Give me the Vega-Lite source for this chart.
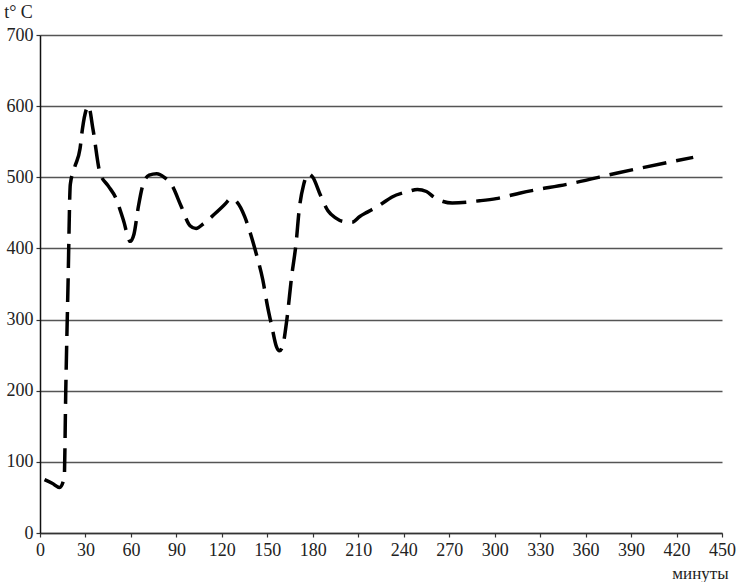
{
  "$schema": "https://vega.github.io/schema/vega-lite/v6.json",
  "width": 682,
  "height": 498,
  "autosize": "none",
  "padding": {"left": 40, "top": 35, "right": 17, "bottom": 49},
  "background": "white",
  "config": {"view": {"stroke": null}, "font": "Liberation Serif"},
  "data": {"values": [
    {"t": 3, "v": 75}, {"t": 8, "v": 70}, {"t": 13, "v": 64}, {"t": 16, "v": 78},
    {"t": 17, "v": 200}, {"t": 18.5, "v": 350}, {"t": 20, "v": 490}, {"t": 23, "v": 515},
    {"t": 26.4, "v": 540}, {"t": 28, "v": 568}, {"t": 32, "v": 600}, {"t": 35, "v": 567},
    {"t": 39.6, "v": 506}, {"t": 45, "v": 488}, {"t": 50, "v": 471}, {"t": 55, "v": 440},
    {"t": 59.5, "v": 410}, {"t": 62, "v": 420}, {"t": 65, "v": 460}, {"t": 68, "v": 490},
    {"t": 72, "v": 503}, {"t": 77, "v": 505}, {"t": 82, "v": 500}, {"t": 87, "v": 489},
    {"t": 93, "v": 460}, {"t": 99, "v": 432}, {"t": 103, "v": 428}, {"t": 108, "v": 435},
    {"t": 115, "v": 448}, {"t": 122, "v": 462}, {"t": 126, "v": 470}, {"t": 130, "v": 465},
    {"t": 135, "v": 445}, {"t": 139, "v": 420}, {"t": 143, "v": 390}, {"t": 147, "v": 356},
    {"t": 150, "v": 320}, {"t": 153, "v": 290}, {"t": 156, "v": 262}, {"t": 158, "v": 256},
    {"t": 160, "v": 262}, {"t": 163, "v": 302}, {"t": 166, "v": 360}, {"t": 169, "v": 408},
    {"t": 171, "v": 454}, {"t": 174, "v": 490}, {"t": 177, "v": 505}, {"t": 180, "v": 500},
    {"t": 185, "v": 475}, {"t": 190, "v": 453}, {"t": 195, "v": 443}, {"t": 200, "v": 438},
    {"t": 206, "v": 437}, {"t": 211, "v": 445}, {"t": 216, "v": 451}, {"t": 225, "v": 462},
    {"t": 232, "v": 472}, {"t": 243, "v": 480}, {"t": 249, "v": 483}, {"t": 255, "v": 480},
    {"t": 260, "v": 472}, {"t": 266, "v": 466}, {"t": 272, "v": 464}, {"t": 290, "v": 467},
    {"t": 301, "v": 470}, {"t": 317, "v": 478}, {"t": 352, "v": 492}, {"t": 381, "v": 506},
    {"t": 431, "v": 528}
  ]},
  "mark": {"type": "line", "interpolate": "monotone", "color": "black", "strokeWidth": 3.5, "strokeDash": [24, 10], "strokeCap": "butt"},
  "encoding": {
    "x": {
      "field": "t", "type": "quantitative",
      "scale": {"domain": [0, 450], "nice": false, "zero": true},
      "axis": {
        "values": [0, 30, 60, 90, 120, 150, 180, 210, 240, 270, 300, 330, 360, 390, 420, 450],
        "grid": false, "domainColor": "#333", "domainWidth": 1.5,
        "tickColor": "#333", "tickSize": 4, "tickWidth": 1.2,
        "labelFlush": false, "labelOverlap": false, "labelBound": false,
        "labelFontSize": 18, "labelColor": "#222", "labelPadding": 4,
        "title": "минуты", "titleFontSize": 17, "titleFontWeight": "normal",
        "titleColor": "#222", "titleX": 660, "titleY": 45, "titleAlign": "center", "titleBaseline": "alphabetic"
      }
    },
    "y": {
      "field": "v", "type": "quantitative",
      "scale": {"domain": [0, 700], "nice": false},
      "axis": {
        "values": [0, 100, 200, 300, 400, 500, 600, 700],
        "grid": true, "gridColor": "#555", "gridWidth": 1.5,
        "domainColor": "#111", "domainWidth": 1.5,
        "tickColor": "#333", "tickSize": 4, "tickWidth": 1.2,
        "labelFlush": false, "labelOverlap": false,
        "labelFontSize": 18, "labelColor": "#222", "labelPadding": 3,
        "title": "t° C", "titleFontSize": 18, "titleFontWeight": "normal",
        "titleColor": "#222", "titleAngle": 0, "titleX": -22, "titleY": -18, "titleAlign": "center", "titleBaseline": "alphabetic"
      }
    }
  }
}
